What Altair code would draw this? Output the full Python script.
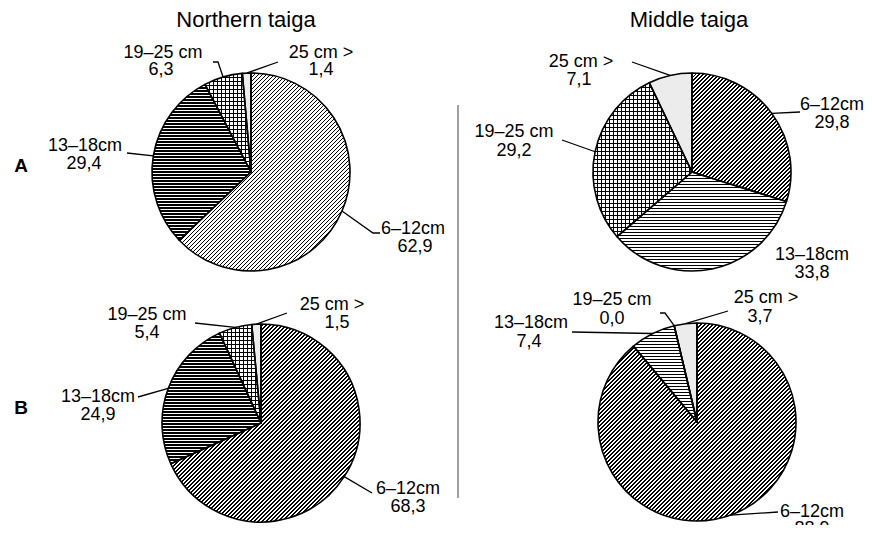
import math
import altair as alt
import pandas as pd

# ---------------- data ----------------
pies = ["Northern A", "Middle A", "Northern B", "Middle B"]
categories = ["6–12cm", "13–18cm", "19–25 cm", "25 cm >"]
northern_a = [62.9, 29.4, 6.3, 1.4]
middle_a = [29.8, 33.8, 29.2, 7.1]
northern_b = [68.3, 24.9, 5.4, 1.5]
middle_b = [88.9, 7.4, 0.0, 3.7]
column_titles = ["Northern taiga", "Middle taiga"]
row_titles = ["A", "B"]

values = {"Northern A": northern_a, "Middle A": middle_a,
          "Northern B": northern_b, "Middle B": middle_b}

# ---------------- layout (page pixels) ----------------
M = 8
R = 99
centers = {"Northern A": (251, 172), "Middle A": (692, 172),
           "Northern B": (261, 423), "Middle B": (697, 422)}
# (x line1, y line1, x line2, y line2) per category
label_pos = {
    "Northern A": [(413, 229, 415, 247), (85, 146, 84, 164), (163, 53, 161, 70), (321, 53, 321, 70)],
    "Middle A": [(832, 105, 832, 123), (812, 255, 812, 273), (514, 132, 514, 151), (581, 62, 579, 80)],
    "Northern B": [(408, 489, 408, 507), (98, 397, 98, 415), (147, 315, 147, 333), (332, 305, 337, 323)],
    "Middle B": [(812, 512, 812, 529), (531, 323, 529, 342), (612, 300, 612, 319), (766, 298, 760, 317)],
}
leader_elbows = {
    "Northern A": [[(373, 233), (380, 233)], [(127, 153)], [(218, 62), (213, 62)], [(278, 62)]],
    "Middle A": [[(800, 112)], None, [(562, 140)], [(632, 62)]],
    "Northern B": [[(372, 493)], [(138, 397)], [(195, 323)], [(287, 313)]],
    "Middle B": [[(778, 512)], [(572, 332)], [(665, 313), (660, 313)], [(728, 311)]],
}
title_pos = [(246, 20), (689, 20)]
row_pos = [(21, 166), (21, 408)]
sep_x, sep_y0, sep_y1 = 458, 105, 498

FONT = "Liberation Sans"

# ---------------- tables ----------------
slice_rows, text_rows, leader_rows = [], [], []
for p in pies:
    vals = values[p]
    tot = sum(vals)
    cx, cy = centers[p]
    cum = 0.0
    for i, (c, v) in enumerate(zip(categories, vals)):
        t0 = cum / tot
        cum += v
        t1 = cum / tot
        slice_rows.append(dict(pie=p, cat=c, idx=i, value=v, t0=t0, t1=t1,
                               cx=cx - M, cy=cy - M))
        lx1, ly1, lx2, ly2 = label_pos[p][i]
        text_rows.append(dict(x=lx1 - M, y=ly1 - M, text=c))
        text_rows.append(dict(x=lx2 - M, y=ly2 - M, text=f"{v:.1f}".replace(".", ",")))
        el = leader_elbows[p][i]
        if el:
            a = 2 * math.pi * (t0 + t1) / 2
            ex, ey = cx + R * math.sin(a), cy - R * math.cos(a)
            lid = f"{p}-{i}"
            leader_rows.append(dict(lid=lid, o=0, x=ex - M, y=ey - M))
            for k, (px, py) in enumerate(el):
                leader_rows.append(dict(lid=lid, o=k + 1, x=px - M, y=py - M))

slices = pd.DataFrame(slice_rows)
texts = pd.DataFrame(text_rows)
leaders = pd.DataFrame(leader_rows)
titles = pd.DataFrame(dict(x=[x - M for x, _ in title_pos], y=[y - M for _, y in title_pos],
                           text=column_titles))
rows = pd.DataFrame(dict(x=[x - M for x, _ in row_pos], y=[y - M for _, y in row_pos],
                         text=row_titles))
sep = pd.DataFrame(dict(x=[sep_x - M], y=[sep_y0 - M], y2=[sep_y1 - M]))


# ---------------- hatch helpers ----------------
def arc_bbox(r, a0, a1):
    pts = [(0.0, 0.0)]
    for a in (a0, a1):
        pts.append((r * math.sin(a), -r * math.cos(a)))
    k = math.ceil(a0 / (math.pi / 2))
    while k * math.pi / 2 <= a1:
        a = k * math.pi / 2
        pts.append((r * math.sin(a), -r * math.cos(a)))
        k += 1
    xs = [q[0] for q in pts]
    ys = [q[1] for q in pts]
    return max(xs) - min(xs), max(ys) - min(ys)


def stripe_stops(length, period, dark_px, dark, light):
    stops = []
    pos = 0.0
    while pos < length:
        s = pos / length
        e = min((pos + dark_px) / length, 1.0)
        n = min((pos + period) / length, 1.0)
        stops += [dict(offset=s, color=dark), dict(offset=e, color=dark),
                  dict(offset=e, color=light), dict(offset=n, color=light)]
        pos += period
    return stops


def diag_hatch(w, h, period, dark_px):
    # t = (x + y) / (w + h): 45 degree "/" lines, integer horizontal period
    k = (w + h) / (w * w + h * h)
    return dict(gradient="linear", stops=stripe_stops(w + h, period, dark_px, "#000000", "#ffffff"),
                x1=0, y1=0, x2=w * k, y2=h * k)


def horiz_hatch(h, period, dark_px, light="#ffffff"):
    return dict(gradient="linear", stops=stripe_stops(h, period, dark_px, "#000000", light),
                x1=0, y1=0, x2=0, y2=1)


def vert_hatch(w, period, dark_px, light="#ffffff"):
    return dict(gradient="linear", stops=stripe_stops(w, period, dark_px, "#000000", light),
                x1=0, y1=0, x2=1, y2=0)


def enc():
    return dict(
        theta=alt.Theta("t0:Q", scale=alt.Scale(domain=[0, 1])),
        theta2="t1:Q",
        x=alt.X("cx:Q", scale=None),
        y=alt.Y("cy:Q", scale=None),
    )


base = alt.Chart(slices)
layers = []
for p in pies:
    for i, c in enumerate(categories):
        row = slices[(slices.pie == p) & (slices.cat == c)].iloc[0]
        if row.value <= 0:
            continue
        w, h = arc_bbox(R, 2 * math.pi * row.t0, 2 * math.pi * row.t1)
        w, h = max(w, 1.0), max(h, 1.0)
        filt = (alt.datum.pie == p) & (alt.datum.cat == c)
        if i == 0:
            fills = [diag_hatch(w, h, 4, 1.6)]
        elif i == 1:
            fills = [horiz_hatch(h, 3, 1.4)]
        elif i == 2:
            fills = [horiz_hatch(h, 4, 1.0),
                     vert_hatch(w, 4, 1.0, "rgba(255,255,255,0)")]
        else:
            fills = ["#ececec"]
        for f in fills:
            layers.append(base.mark_arc(radius=R, fill=f, strokeWidth=0)
                          .encode(**enc()).transform_filter(filt))

outline = base.mark_arc(radius=R, fill="#ffffff", fillOpacity=0, stroke="#000000",
                        strokeWidth=1.6, strokeJoin="round").encode(**enc())

leader_lines = alt.Chart(leaders).mark_line(color="#000000", strokeWidth=1.3).encode(
    x=alt.X("x:Q", scale=None), y=alt.Y("y:Q", scale=None), detail="lid:N", order="o:Q")

label_text = alt.Chart(texts).mark_text(font=FONT, fontSize=18, color="#000000",
                                        align="center", baseline="middle").encode(
    x=alt.X("x:Q", scale=None), y=alt.Y("y:Q", scale=None), text="text:N")

title_text = alt.Chart(titles).mark_text(font=FONT, fontSize=22, color="#000000",
                                         align="center", baseline="middle").encode(
    x=alt.X("x:Q", scale=None), y=alt.Y("y:Q", scale=None), text="text:N")

row_text = alt.Chart(rows).mark_text(font=FONT, fontSize=19, fontWeight="bold", color="#000000",
                                     align="center", baseline="middle").encode(
    x=alt.X("x:Q", scale=None), y=alt.Y("y:Q", scale=None), text="text:N")

separator = alt.Chart(sep).mark_rule(color="#808080", strokeWidth=1.5).encode(
    x=alt.X("x:Q", scale=None), y=alt.Y("y:Q", scale=None), y2="y2:Q")

chart = alt.layer(*layers, outline, leader_lines, separator, label_text, title_text, row_text).properties(
    width=856, height=517, padding=0, autosize=alt.AutoSizeParams(type="none")
).configure_view(stroke=None)

chart.save("out.html", embed_options={"renderer": "svg", "actions": False})
